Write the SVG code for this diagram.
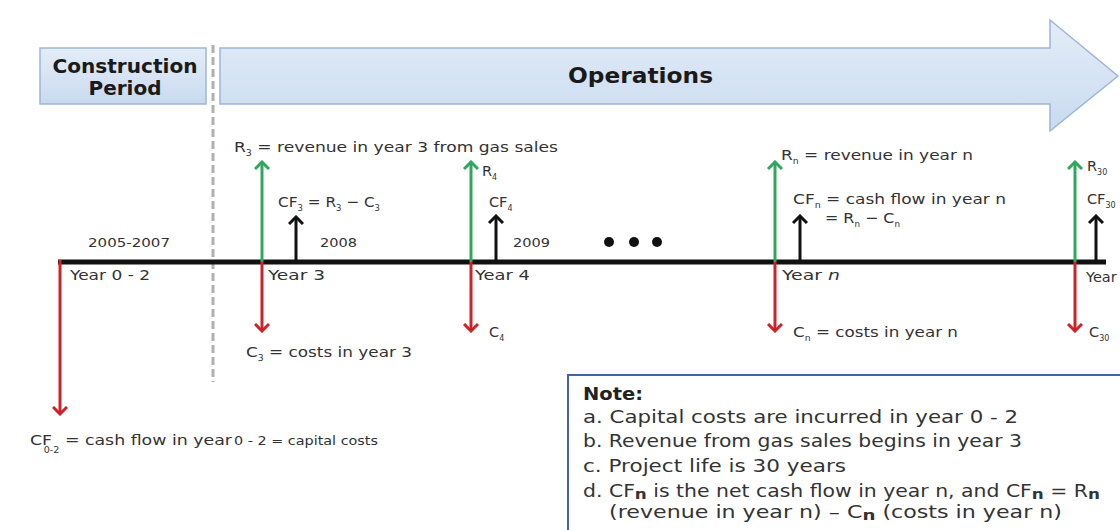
<svg xmlns="http://www.w3.org/2000/svg" width="1120" height="530" viewBox="0 0 1120 530">
<defs>
<linearGradient id="bg" x1="0" y1="0" x2="0" y2="1">
<stop offset="0" stop-color="#e4edf8"/>
<stop offset="1" stop-color="#c9daf0"/>
</linearGradient>
<marker id="ag" viewBox="0 0 10 16" refX="8" refY="8" markerWidth="10" markerHeight="16" markerUnits="userSpaceOnUse" orient="auto"><path d="M1,1 L8,8 L1,15" fill="none" stroke="#2fa85e" stroke-width="3"/></marker>
<marker id="ar" viewBox="0 0 10 16" refX="8" refY="8" markerWidth="10" markerHeight="16" markerUnits="userSpaceOnUse" orient="auto"><path d="M1,1 L8,8 L1,15" fill="none" stroke="#cc2229" stroke-width="3"/></marker>
<marker id="ak" viewBox="0 0 10 16" refX="8" refY="8" markerWidth="10" markerHeight="16" markerUnits="userSpaceOnUse" orient="auto"><path d="M1,1 L8,8 L1,15" fill="none" stroke="#111" stroke-width="3"/></marker>
<style>
text{font-family:"DejaVu Sans","Liberation Sans",sans-serif;fill:#333}
.t{font-size:14.5px}
.y{font-size:13px}
.s{font-size:8px}
.hd{font-size:20px;font-weight:bold;fill:#1a1a1a}
.n{font-size:17px}
.g{stroke:#2fa85e;stroke-width:3;marker-end:url(#ag)}
.r{stroke:#cc2229;stroke-width:3;marker-end:url(#ar)}
.k{stroke:#111;stroke-width:3;marker-end:url(#ak)}
</style>
</defs>

<g id="construction">
<rect x="40" y="48" width="166" height="56" fill="url(#bg)" stroke="#9cb6d6" stroke-width="1.5"/>
<text class="hd" x="125" y="73" text-anchor="middle" textLength="145" lengthAdjust="spacingAndGlyphs">Construction</text>
<text class="hd" x="125" y="95" text-anchor="middle">Period</text>
</g>

<g id="operations">
<path d="M220,48 H1050 V20 L1118,76 L1050,131 V104 H220 Z" fill="url(#bg)" stroke="#9cb6d6" stroke-width="1.5"/>
<text class="hd" x="568" y="83" style="font-size:22px" textLength="145" lengthAdjust="spacingAndGlyphs">Operations</text>
</g>

<g id="divider">
<line x1="213" y1="45" x2="213" y2="382" stroke="#b0b0b0" stroke-width="3" stroke-dasharray="8,4"/>
</g>

<g id="connectors">
<line x1="58" y1="262" x2="1106" y2="262" stroke="#111" stroke-width="5"/>
<line class="r" x1="60" y1="260" x2="60" y2="414"/>
<line class="g" x1="262" y1="262" x2="262" y2="162"/>
<line class="r" x1="262" y1="262" x2="262" y2="331"/>
<line class="k" x1="296" y1="262" x2="296" y2="217"/>
<line class="g" x1="471" y1="262" x2="471" y2="162"/>
<line class="r" x1="471" y1="262" x2="471" y2="331"/>
<line class="k" x1="496" y1="262" x2="496" y2="216"/>
<line class="g" x1="775" y1="262" x2="775" y2="162"/>
<line class="r" x1="775" y1="262" x2="775" y2="331"/>
<line class="k" x1="800" y1="262" x2="800" y2="216"/>
<line class="g" x1="1075" y1="262" x2="1075" y2="162"/>
<line class="r" x1="1075" y1="262" x2="1075" y2="331"/>
<line class="k" x1="1096" y1="262" x2="1096" y2="216"/>
</g>

<g id="dots" fill="#111">
<circle cx="609" cy="242" r="5"/>
<circle cx="634" cy="242" r="5"/>
<circle cx="657" cy="242" r="5"/>
</g>

<g id="year0-2">
<text class="y" x="88" y="247" textLength="82" lengthAdjust="spacingAndGlyphs">2005-2007</text>
<text class="t" x="70" y="280" textLength="80" lengthAdjust="spacingAndGlyphs">Year 0 - 2</text>
<text class="t" x="30" y="445" textLength="202" lengthAdjust="spacingAndGlyphs">CF<tspan class="s" dx="-7" dy="8">0-2</tspan><tspan dy="-8"> = cash flow in year</tspan></text>
<text class="y" x="234" y="445" textLength="144" lengthAdjust="spacingAndGlyphs" style="font-size:12.5px">0 - 2 = capital costs</text>
</g>

<g id="year3">
<text class="t" x="234" y="152" textLength="324" lengthAdjust="spacingAndGlyphs">R<tspan class="s" dy="4">3</tspan><tspan dy="-4"> = revenue in year 3 from gas sales</tspan></text>
<text class="t" x="278" y="207" textLength="102" lengthAdjust="spacingAndGlyphs">CF<tspan class="s" dy="4">3</tspan><tspan dy="-4"> = R</tspan><tspan class="s" dy="4">3</tspan><tspan dy="-4"> − C</tspan><tspan class="s" dy="4">3</tspan></text>
<text class="y" x="320" y="247" textLength="37" lengthAdjust="spacingAndGlyphs">2008</text>
<text class="t" x="268" y="280" textLength="57" lengthAdjust="spacingAndGlyphs">Year 3</text>
<text class="t" x="246" y="357" textLength="166" lengthAdjust="spacingAndGlyphs">C<tspan class="s" dy="4">3</tspan><tspan dy="-4"> = costs in year 3</tspan></text>
</g>

<g id="year4">
<text class="t" x="482" y="176">R<tspan class="s" dy="4">4</tspan></text>
<text class="t" x="489" y="207">CF<tspan class="s" dy="4">4</tspan></text>
<text class="y" x="513" y="247" textLength="37" lengthAdjust="spacingAndGlyphs">2009</text>
<text class="t" x="475" y="280" textLength="55" lengthAdjust="spacingAndGlyphs">Year 4</text>
<text class="t" x="489" y="337">C<tspan class="s" dy="4">4</tspan></text>
</g>

<g id="yearn">
<text class="t" x="781" y="160" textLength="192" lengthAdjust="spacingAndGlyphs">R<tspan class="s" dy="4">n</tspan><tspan dy="-4"> = revenue in year n</tspan></text>
<text class="t" x="793" y="204" textLength="213" lengthAdjust="spacingAndGlyphs">CF<tspan class="s" dy="4">n</tspan><tspan dy="-4"> = cash flow in year n</tspan></text>
<text class="t" x="825" y="223" textLength="75" lengthAdjust="spacingAndGlyphs">= R<tspan class="s" dy="4">n</tspan><tspan dy="-4"> − C</tspan><tspan class="s" dy="4">n</tspan></text>
<text class="t" x="782" y="280" textLength="58" lengthAdjust="spacingAndGlyphs">Year <tspan font-style="italic">n</tspan></text>
<text class="t" x="793" y="337" textLength="165" lengthAdjust="spacingAndGlyphs">C<tspan class="s" dy="4">n</tspan><tspan dy="-4"> = costs in year n</tspan></text>
</g>

<g id="year30">
<text class="t" x="1087" y="171">R<tspan class="s" dy="4">30</tspan></text>
<text class="t" x="1087" y="204">CF<tspan class="s" dy="4">30</tspan></text>
<text class="t" x="1086" y="282">Year</text>
<text class="t" x="1089" y="337">C<tspan class="s" dy="4">30</tspan></text>
</g>

<g id="note">
<rect x="568" y="375" width="560" height="170" fill="#fff" stroke="#3f64a8" stroke-width="2"/>
<text class="n" x="583" y="400" font-weight="bold" style="fill:#222" textLength="60" lengthAdjust="spacingAndGlyphs">Note:</text>
<text class="n" x="583" y="423" textLength="435" lengthAdjust="spacingAndGlyphs">a.  Capital costs are incurred in year 0 - 2</text>
<text class="n" x="583" y="447" textLength="439" lengthAdjust="spacingAndGlyphs">b.  Revenue from gas sales begins in year 3</text>
<text class="n" x="583" y="472" textLength="263" lengthAdjust="spacingAndGlyphs">c.  Project life is 30 years</text>
<text class="n" x="583" y="497" textLength="517" lengthAdjust="spacingAndGlyphs">d.  CF<tspan font-weight="bold" font-size="14" dy="2">n</tspan><tspan dy="-2"> is the net cash flow in year n, and CF</tspan><tspan font-weight="bold" font-size="14" dy="2">n</tspan><tspan dy="-2"> = R</tspan><tspan font-weight="bold" font-size="14" dy="2">n</tspan></text>
<text class="n" x="609" y="518" textLength="453" lengthAdjust="spacingAndGlyphs">(revenue in year n) – C<tspan font-weight="bold" font-size="14" dy="2">n</tspan><tspan dy="-2"> (costs in year n)</tspan></text>
</g>
</svg>
